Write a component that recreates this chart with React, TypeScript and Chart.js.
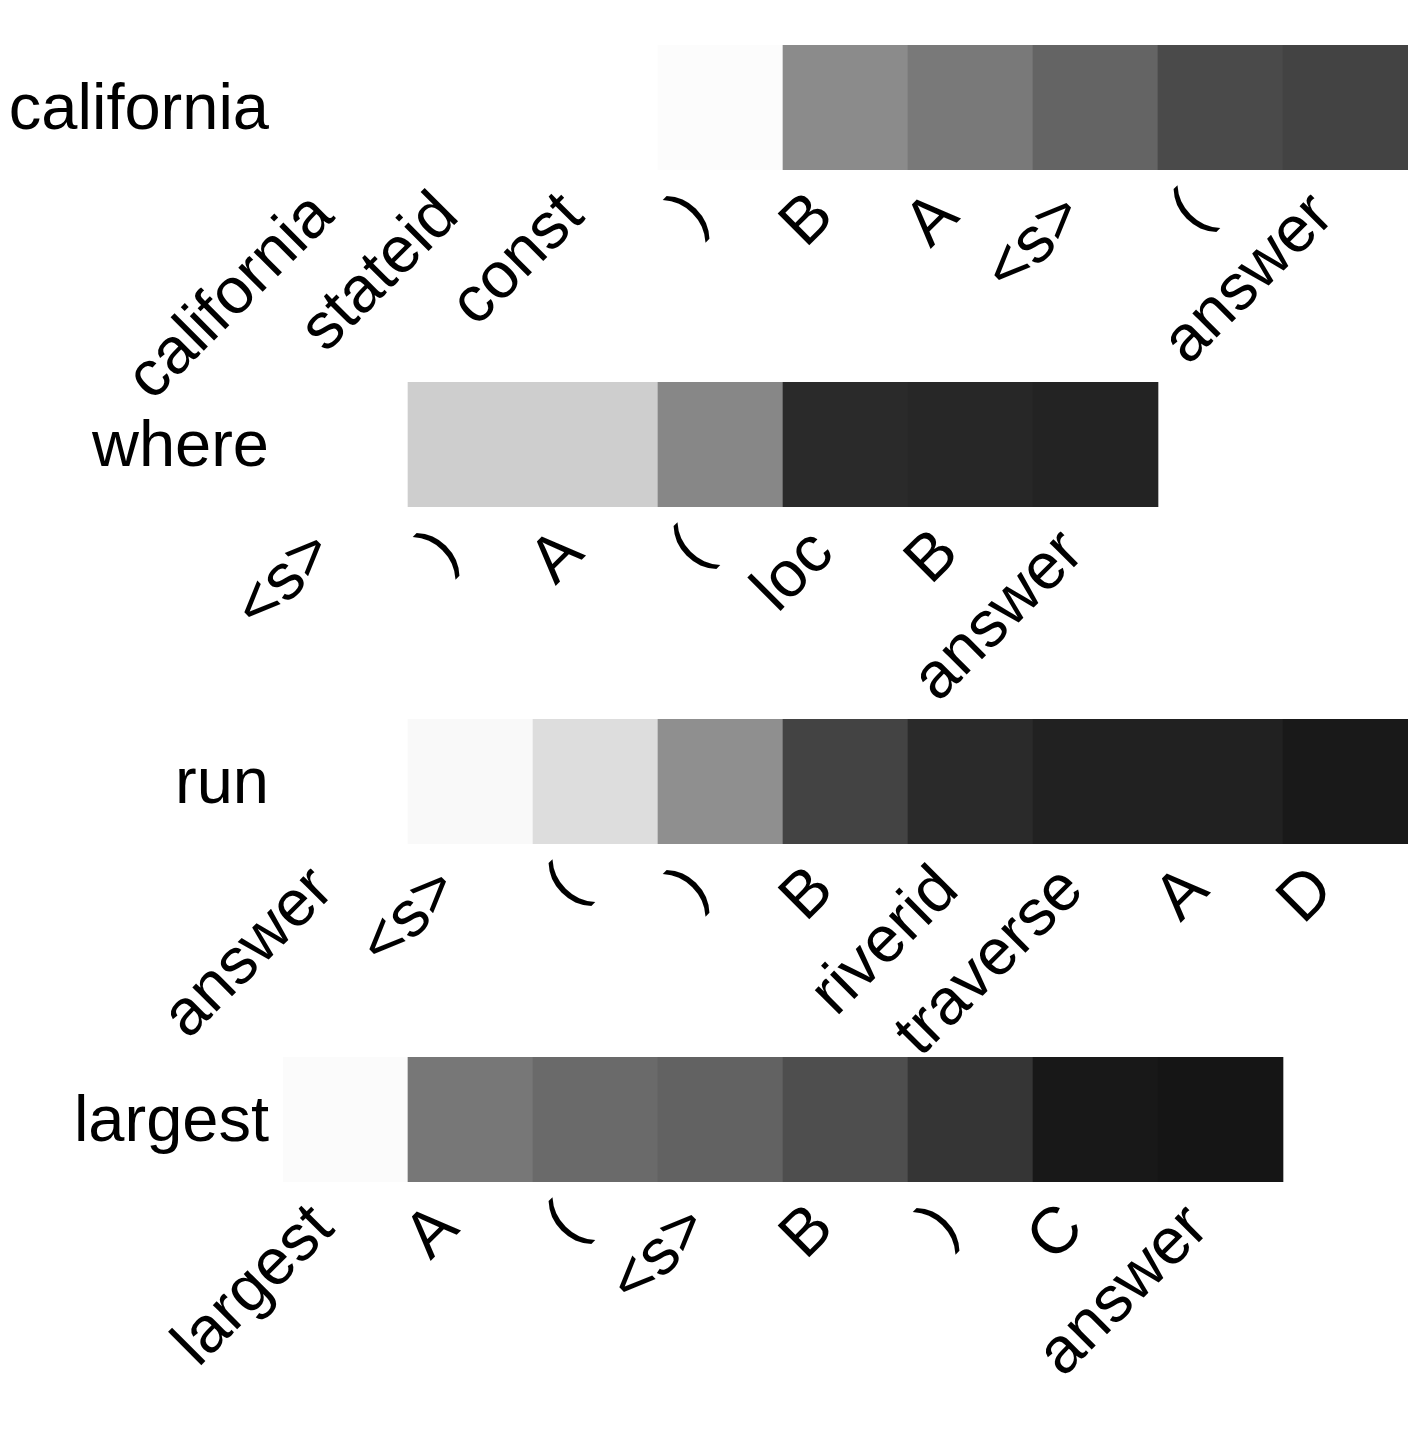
import React, { useEffect, useRef } from 'react';
import { Chart, registerables } from 'chart.js';

Chart.register(...registerables);

const SLOT_COUNT = 9;
const FONT_FAMILY = '"Liberation Sans", Arial, sans-serif';
const FONT_SIZE = 65;
const CANVAS_HEIGHT = 440;

const rowNames = ['california', 'where', 'run', 'largest'];

const californiaTokens = ['california', 'stateid', 'const', ')', 'B', 'A', '<s>', '(', 'answer'];
const californiaWeights = [0, 0, 0, 0.012, 0.455, 0.525, 0.608, 0.71, 0.737];

const whereTokens = ['<s>', ')', 'A', '(', 'loc', 'B', 'answer'];
const whereWeights = [0, 0.192, 0.192, 0.471, 0.835, 0.847, 0.863];

const runTokens = ['answer', '<s>', '(', ')', 'B', 'riverid', 'traverse', 'A', 'D'];
const runWeights = [0, 0.024, 0.133, 0.439, 0.737, 0.835, 0.871, 0.871, 0.902];

const largestTokens = ['largest', 'A', '(', '<s>', 'B', ')', 'C', 'answer'];
const largestWeights = [0.016, 0.533, 0.584, 0.616, 0.694, 0.792, 0.906, 0.918];

const rowTokens = [californiaTokens, whereTokens, runTokens, largestTokens];
const rowWeights = [californiaWeights, whereWeights, runWeights, largestWeights];

const rowTops = [0, 337, 674, 1012];

function greyFor(w: number | null): string {
  if (w == null) return 'rgba(0,0,0,0)';
  const g = Math.round(255 * (1 - w));
  return `rgb(${g},${g},${g})`;
}

function HeatRow(props: { name: string; tokens: string[]; weights: number[]; top: number }) {
  const { name, tokens, weights, top } = props;
  const ref = useRef<HTMLCanvasElement | null>(null);

  useEffect(() => {
    if (!ref.current) return;
    const labels: string[] = [];
    const cellWeights: (number | null)[] = [];
    for (let i = 0; i < SLOT_COUNT; i++) {
      labels.push(i < tokens.length ? tokens[i] : '');
      cellWeights.push(i < weights.length ? weights[i] : null);
    }
    const font = { family: FONT_FAMILY, size: FONT_SIZE };
    const chart = new Chart(ref.current, {
      type: 'bar',
      data: {
        labels,
        datasets: [
          {
            data: cellWeights.map((w) => (w == null ? null : 1)),
            backgroundColor: cellWeights.map(greyFor),
            borderWidth: 0,
            barPercentage: 1,
            categoryPercentage: 1,
          },
        ],
      },
      options: {
        responsive: false,
        animation: false,
        layout: { padding: { top: 45, left: 0, right: 4, bottom: 0 } },
        plugins: { legend: { display: false }, tooltip: { enabled: false } },
        scales: {
          x: {
            grid: { display: false, drawTicks: false },
            border: { display: false },
            ticks: {
              autoSkip: false,
              minRotation: 45,
              maxRotation: 45,
              padding: 8,
              labelOffset: -22,
              color: '#000',
              font,
            },
            afterFit: (s: any) => {
              s.height = CANVAS_HEIGHT - 170;
              s.paddingLeft = 0;
              s.paddingRight = 0;
            },
          },
          y: {
            min: 0,
            max: 1,
            grid: { display: false, drawTicks: false },
            border: { display: false },
            afterBuildTicks: (s: any) => {
              s.ticks = [{ value: 0.5 }];
            },
            ticks: {
              callback: () => name,
              padding: 14,
              labelOffset: 4,
              color: '#000',
              font,
            },
            afterFit: (s: any) => {
              s.width = 283;
              s.paddingTop = 0;
              s.paddingBottom = 0;
            },
          },
        },
      },
    } as any);
    return () => chart.destroy();
  }, [name, tokens, weights]);

  return (
    <div style={{ position: 'absolute', left: 0, top, width: 1412, height: CANVAS_HEIGHT }}>
      <canvas ref={ref} width={1412} height={CANVAS_HEIGHT} style={{ display: 'block' }} />
    </div>
  );
}

export default function App() {
  return (
    <div style={{ position: 'absolute', left: 0, top: 0, width: 1412, height: 1440, background: '#fff', overflow: 'hidden' }}>
      {rowNames.map((n, i) => (
        <HeatRow key={n} name={n} tokens={rowTokens[i]} weights={rowWeights[i]} top={rowTops[i]} />
      ))}
    </div>
  );
}
